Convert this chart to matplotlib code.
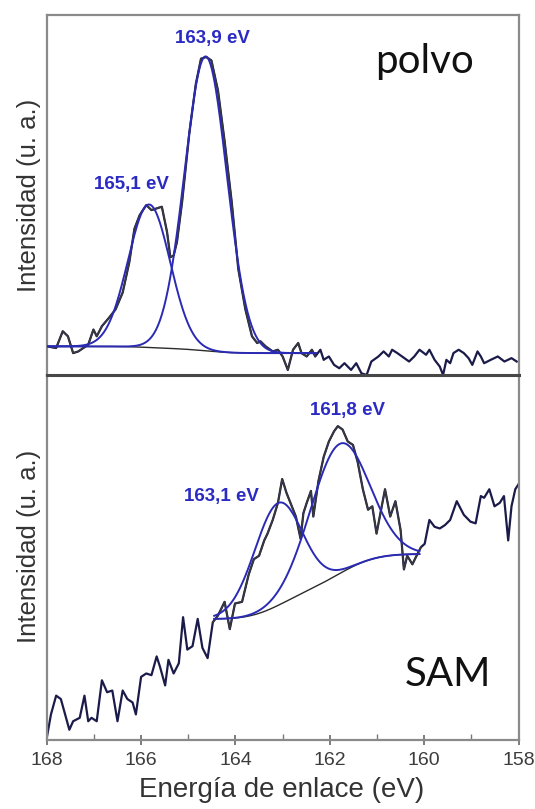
import numpy as np
import matplotlib
matplotlib.use("Agg")
import matplotlib.pyplot as plt

# XPS S 2p spectra: powder (polvo) vs self-assembled monolayer (SAM)

# --- polvo: measured spectrum (binding energy eV, intensity a.u.) ---
polvo_ev = [167.99, 167.80, 167.66, 167.55, 167.44, 167.33, 167.12, 167.01, 166.94, 166.83,
            166.68, 166.54, 166.39, 166.25, 166.14, 166.03, 165.89, 165.78, 165.67, 165.56,
            165.45, 165.38, 165.31, 165.24, 165.13, 164.98, 164.84, 164.73, 164.62, 164.51,
            164.37, 164.23, 164.08, 163.94, 163.79, 163.65, 163.54, 163.47, 163.36, 163.21,
            163.10, 163.00, 162.89, 162.78, 162.67, 162.60, 162.49, 162.38, 162.31, 162.20,
            162.13, 162.02, 161.91, 161.80, 161.69, 161.55, 161.44, 161.33, 161.22, 161.12,
            160.97, 160.86, 160.75, 160.68, 160.57, 160.47, 160.32, 160.21, 160.10, 159.96,
            159.89, 159.78, 159.67, 159.60, 159.53, 159.45, 159.38, 159.27, 159.16, 159.06,
            158.98, 158.87, 158.80, 158.73, 158.59, 158.44, 158.30, 158.15, 158.04]
polvo_int = [9.5, 9.0, 14.0, 12.5, 7.5, 8.0, 10.0, 14.5, 12.5, 15.5,
             18.0, 20.5, 25.5, 34.5, 44.5, 48.5, 51.5, 50.0, 50.5, 51.0,
             43.5, 36.0, 36.5, 40.5, 52.5, 72.5, 87.5, 95.0, 95.5, 94.5,
             85.5, 70.5, 52.5, 32.5, 20.5, 12.5, 10.5, 11.0, 9.5, 8.0,
             8.5, 6.5, 2.5, 8.5, 10.5, 7.5, 6.5, 8.5, 6.5, 8.5,
             5.5, 6.5, 4.0, 3.0, 4.5, 2.5, 4.5, 1.5, 1.0, 5.0,
             6.5, 8.0, 6.5, 8.5, 7.5, 6.5, 5.0, 6.5, 8.5, 7.0,
             8.5, 5.5, 3.5, 1.0, 5.5, 4.5, 7.5, 8.5, 7.5, 6.0,
             4.0, 8.0, 6.5, 4.5, 5.5, 6.5, 5.0, 6.0, 5.0]

# fitted components (reported energies, height, FWHM)
polvo_peaks = [165.1, 163.9]
polvo_heights = [42.5, 87.5]
polvo_fwhm = [1.05, 1.05]
polvo_offset = 0.73          # charge-referencing shift of the powder scale
polvo_range = (168.0, 162.3)
polvo_bg = (9.5, 7.5)

# --- SAM: measured spectrum ---
sam_ev = [168.00, 167.91, 167.80, 167.70, 167.59, 167.52, 167.44, 167.37, 167.30, 167.20,
          167.12, 167.05, 166.94, 166.83, 166.72, 166.61, 166.50, 166.39, 166.29, 166.18,
          166.11, 166.00, 165.89, 165.78, 165.67, 165.60, 165.49, 165.42, 165.31, 165.20,
          165.11, 165.02, 164.91, 164.80, 164.70, 164.59, 164.48, 164.37, 164.23, 164.12,
          164.01, 163.86, 163.72, 163.61, 163.50, 163.39, 163.32, 163.21, 163.10, 163.01,
          162.92, 162.82, 162.72, 162.62, 162.56, 162.49, 162.40, 162.35, 162.24, 162.13,
          162.02, 161.91, 161.83, 161.73, 161.62, 161.51, 161.41, 161.30, 161.19, 161.10,
          161.01, 160.90, 160.83, 160.72, 160.61, 160.50, 160.43, 160.36, 160.25, 160.18,
          160.07, 159.99, 159.89, 159.78, 159.67, 159.56, 159.45, 159.31, 159.16, 159.02,
          158.91, 158.80, 158.73, 158.62, 158.51, 158.40, 158.31, 158.22, 158.15, 158.07,
          158.00]
sam_int = [2.5, 9.5, 15.0, 14.0, 8.5, 5.0, 7.5, 8.0, 8.5, 15.0,
           7.5, 8.5, 7.5, 19.5, 16.0, 16.5, 7.5, 16.5, 14.0, 13.0,
           9.5, 20.5, 21.5, 21.0, 26.5, 23.5, 18.0, 25.5, 21.5, 24.5,
           38.0, 28.5, 29.5, 37.5, 29.0, 26.0, 36.5, 38.5, 42.5, 34.5,
           42.0, 42.5, 50.5, 55.0, 56.0, 60.5, 62.5, 66.5, 71.5, 78.5,
           74.5, 71.0, 67.5, 61.0, 68.5, 71.5, 75.0, 67.5, 78.0, 85.0,
           89.5, 92.5, 94.0, 93.0, 89.5, 88.5, 83.5, 75.5, 69.5, 70.5,
           62.5, 70.5, 75.5, 67.5, 72.0, 63.5, 52.0, 56.0, 53.5, 55.5,
           58.5, 59.5, 66.5, 64.5, 64.0, 65.0, 66.5, 72.0, 68.0, 66.0,
           65.5, 73.5, 73.0, 75.5, 70.5, 71.5, 73.5, 60.5, 70.5, 75.5,
           77.0]

sam_peaks = [163.1, 161.8]
sam_heights = [30.0, 38.0]
sam_fwhm = [1.2, 1.45]
sam_offset = 0.0
sam_range = (164.45, 160.1)
sam_bg = (37.5, 56.5)

DATA_C = "#3a3a3a"
EDGE_C = "#1b1b4a"
FIT_C = "#2a2ab4"
LBL_C = "#2b2bc4"
FRAME_C = "#8a8a8a"


def gauss(e, c, h, w):
    return h * np.exp(-4 * np.log(2) * (e - c) ** 2 / w ** 2)


def fit_curves(peaks, heights, fwhm, offset, erange, bg):
    # components on a Shirley-type background built from their own area
    e = np.linspace(erange[0], erange[1], 400)
    comps = [gauss(e, c + offset, h, w) for c, h, w in zip(peaks, heights, fwhm)]
    total = np.sum(comps, axis=0)
    area = np.concatenate([[0], np.cumsum((total[1:] + total[:-1]) / 2)])
    frac = 1 - area / area[-1]            # 1 at high-energy end, 0 at low end
    base = bg[1] + (bg[0] - bg[1]) * frac
    return e, base, [base + c for c in comps]


def draw_panel(ax, ev, inten, peaks, heights, fwhm, offset, erange, bg):
    ev = np.asarray(ev)
    inten = np.asarray(inten)
    inside = (ev <= erange[0] + 0.05) & (ev >= erange[1] - 0.08)
    ax.plot(ev, inten, color=EDGE_C, lw=1.6)
    ax.plot(ev[inside], inten[inside], color=DATA_C, lw=1.1, zorder=3)
    e, base, comps = fit_curves(peaks, heights, fwhm, offset, erange, bg)
    ax.plot(e, base, color="#2b2b2b", lw=1.0, zorder=3)
    for c in comps:
        ax.plot(e, c, color=FIT_C, lw=1.4, zorder=4)


fig = plt.figure(figsize=(5.35, 8.09), dpi=100)
ax2 = fig.add_axes([0.0873, 0.0853, 0.882, 0.4512])
ax1 = fig.add_axes([0.0873, 0.5365, 0.882, 0.445])
ax1.patch.set_visible(False)

draw_panel(ax1, polvo_ev, polvo_int, polvo_peaks, polvo_heights, polvo_fwhm,
           polvo_offset, polvo_range, polvo_bg)
draw_panel(ax2, sam_ev, sam_int, sam_peaks, sam_heights, sam_fwhm,
           sam_offset, sam_range, sam_bg)

for ax in (ax1, ax2):
    ax.set_xlim(168, 158)
    ax.set_yticks([])
    for s in ax.spines.values():
        s.set_color(FRAME_C)
        s.set_linewidth(1.6)

ax1.set_ylim(1.0, 108)
ax2.set_ylim(2.0, 109)
ax1.set_xticks([])
ax1.spines["bottom"].set_color("#474747")
ax1.spines["bottom"].set_linewidth(2.2)
ax1.spines["bottom"].set_zorder(6)
ax2.spines["top"].set_visible(False)

ax2.set_xticks(np.arange(168, 157, -2))
ax2.set_xticks(np.arange(167, 158, -2), minor=True)
ax2.tick_params(axis="x", which="major", direction="inout", length=7, width=1.2,
                color="#666666", labelsize=14, labelcolor="#3c3c3c", pad=5)
ax2.tick_params(axis="x", which="minor", direction="in", length=4, width=1.0,
                color="#777777")
for lbl in ax2.get_xticklabels():
    lbl.set_family("Liberation Sans")

bold = dict(color=LBL_C, fontsize=13.5, fontweight="bold", family="Liberation Sans",
            ha="center", va="center")
ax1.text(164.48, 101.0, "163,9 eV", **bold)
ax1.text(166.21, 57.5, "165,1 eV", **bold)
ax2.text(161.62, 98.7, "161,8 eV", **bold)
ax2.text(164.30, 73.3, "163,1 eV", **bold)

big = dict(fontsize=29, family="Lato", color="#111111", ha="center", va="center")
ax1.text(0.80, 0.87, "polvo", transform=ax1.transAxes, **big)
ax2.text(0.85, 0.18, "SAM", transform=ax2.transAxes, **big)

ylab = dict(rotation=90, ha="center", va="center", fontsize=18.5,
            family="Liberation Sans", color="#333333")
fig.text(0.054, 0.758, "Intensidad (u. a.)", **ylab)
fig.text(0.054, 0.325, "Intensidad (u. a.)", **ylab)
fig.text(0.527, 0.0235, "Energía de enlace (eV)", ha="center", va="center",
         fontsize=20, family="Liberation Sans", color="#333333")

fig.savefig("out.png", dpi=100)
